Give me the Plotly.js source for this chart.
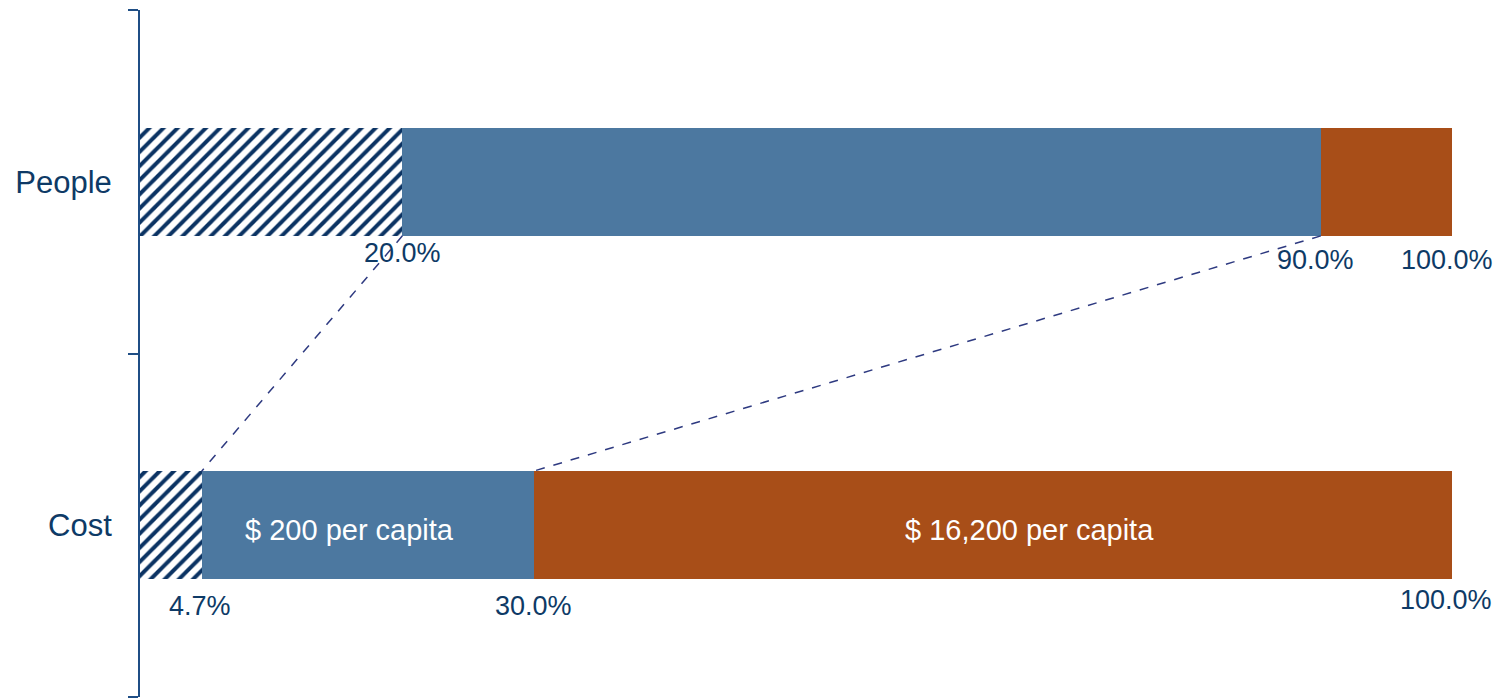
<!DOCTYPE html>
<html>
<head>
<meta charset="utf-8">
<script src="https://cdn.plot.ly/plotly-3.0.1.min.js"></script>
<style>html,body{margin:0;padding:0;background:#fff;}#chart{width:1494px;height:698px;}</style>
</head>
<body>
<div id="chart"></div>
<script>
const categories = ['Cost', 'People'];
const peopleBreaks = [20.0, 90.0, 100.0];
const costBreaks = [4.7, 30.0, 100.0];
const insideLabels = ['$ 200 per capita', '$ 16,200 per capita'];

const navy = '#0b3363';
const blue = '#4c78a0';
const orange = '#a84e18';
const textColor = '#0e3a66';
const FONT = 'Liberation Sans, Arial, sans-serif';

function seg(arr, i) { return i === 0 ? arr[0] : arr[i] - arr[i - 1]; }
const segColors = [null, blue, orange];
const traces = [0, 1, 2].map(i => {
  const m = { color: i === 0 ? '#ffffff' : segColors[i], line: { width: 0 } };
  if (i === 0) m.pattern = { shape: '/', fgcolor: navy, bgcolor: '#ffffff', size: 10, solidity: 0.4 };
  return {
    type: 'bar', orientation: 'h',
    y: categories,
    x: [seg(costBreaks, i), seg(peopleBreaks, i)],
    width: 0.315,
    marker: m,
    hoverinfo: 'skip',
    showlegend: false
  };
});

const BW = 0.315;
const annotations = [];
const fmt = v => v.toFixed(1) + '%';
// People labels
peopleBreaks.forEach((v, i) => {
  annotations.push({ x: v, y: 1, xref: 'x', yref: 'y', text: fmt(v), showarrow: false,
    yshift: i === 0 ? -71 : -78, xshift: i === 0 ? 0 : -5,
    font: { family: FONT, size: 27, color: textColor } });
});
costBreaks.forEach((v, i) => {
  annotations.push({ x: v, y: 0, xref: 'x', yref: 'y', text: fmt(v), showarrow: false,
    yshift: i === 2 ? -75 : -81, xshift: i === 0 ? -2 : (i === 2 ? -6 : 0),
    font: { family: FONT, size: 27, color: textColor } });
});
// inside labels
annotations.push({ x: (costBreaks[0] + costBreaks[1]) / 2, y: 0, xref: 'x', yref: 'y', text: insideLabels[0],
  showarrow: false, xshift: -18, yshift: -5, font: { family: FONT, size: 29, color: '#ffffff' } });
annotations.push({ x: (costBreaks[1] + costBreaks[2]) / 2, y: 0, xref: 'x', yref: 'y', text: insideLabels[1],
  showarrow: false, xshift: 37, yshift: -5, font: { family: FONT, size: 29, color: '#ffffff' } });

const shapes = [
  { type: 'line', xref: 'x', yref: 'y', x0: peopleBreaks[0], y0: 1 - BW / 2, x1: costBreaks[0], y1: BW / 2,
    line: { color: '#2e3a80', width: 1.5, dash: 'dash' } },
  { type: 'line', xref: 'x', yref: 'y', x0: peopleBreaks[1], y0: 1 - BW / 2, x1: costBreaks[1], y1: BW / 2,
    line: { color: '#2e3a80', width: 1.5, dash: 'dash' } }
];

const layout = {
  width: 1494, height: 698,
  margin: { l: 140, r: 42, t: 10, b: 1 },
  paper_bgcolor: '#ffffff', plot_bgcolor: '#ffffff',
  barmode: 'stack',
  showlegend: false,
  xaxis: { range: [0, 100], visible: false, fixedrange: true },
  yaxis: {
    type: 'category', categoryorder: 'array', categoryarray: categories,
    range: [-0.5, 1.5],
    showline: true, linecolor: '#1f4e85', linewidth: 2,
    ticks: 'outside', tickson: 'boundaries', ticklen: 10, tickcolor: '#1f4e85', tickwidth: 2,
    showgrid: false, zeroline: false,
    tickfont: { family: FONT, size: 31, color: textColor },
    ticklabelstandoff: 20
  },
  annotations: annotations,
  shapes: shapes
};

Plotly.newPlot('chart', traces, layout, { displayModeBar: false, staticPlot: true });
</script>
</body>
</html>
